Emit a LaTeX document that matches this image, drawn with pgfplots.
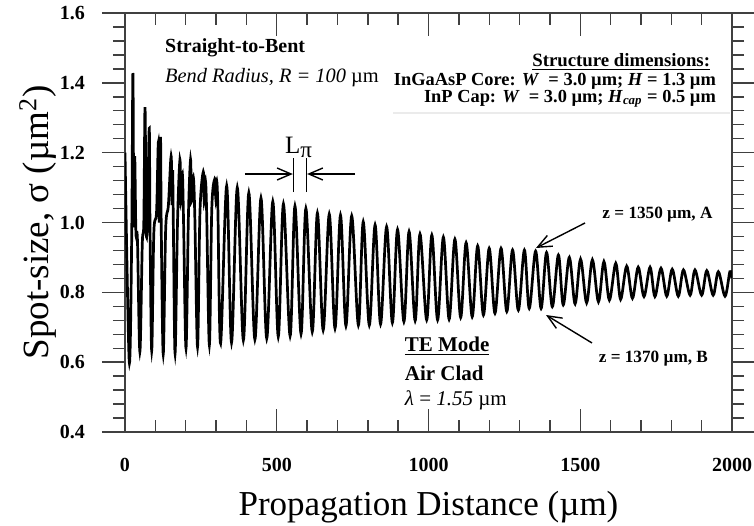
\documentclass[border=0pt]{standalone}
\usepackage{pgfplots}
\pgfplotsset{compat=1.18}
\usepackage{fontspec}
\setmainfont{Liberation Serif}
\usetikzlibrary{arrows.meta}
\begin{document}
\begin{tikzpicture}
\useasboundingbox (-62.5pt,-46.5pt) rectangle (314.5pt,216pt);
\begin{axis}[
  scale only axis, width=303.5pt, height=209.5pt,
  xmin=0, xmax=2000, ymin=0.4, ymax=1.6,
  xtick={0,500,1000,1500,2000},
  ytick={0.4,0.6,0.8,1.0,1.2,1.4,1.6},
  minor x tick num=4, minor y tick num=4,
  xtick align=inside, ytick align=outside,
  major tick length=11.5pt, minor tick length=6pt,
  tick style={black!75, line width=0.7pt},
  axis line style={black!75, line width=0.8pt},
  /pgf/number format/assume math mode=true,
  /pgf/number format/1000 sep={},
  yticklabel style={/pgf/number format/fixed, /pgf/number format/fixed zerofill, /pgf/number format/precision=1, xshift=-5pt},
  tick label style={font=\bfseries\fontsize{10}{12}\selectfont},
  xticklabel style={yshift=-9.5pt},
  xlabel={Propagation Distance (µm)},
  ylabel={Spot-size, σ (µm\textsuperscript{2})},
  xlabel style={at={(axis description cs:0.5,-0.179)}, anchor=center, font=\fontsize{17.5}{20}\selectfont},
  ylabel style={at={(axis description cs:-0.1433,0.5)}, anchor=center, font=\fontsize{18.5}{20}\selectfont},
]
\addplot[black, line width=1.35pt, smooth, tension=0.55] coordinates {
(0,1.20) (14,0.601)
(22,0.95) (26,1.428) (29,0.99) (32,1.19) (36,0.97) (41,0.95) (49,0.630)
(57,0.94) (62,1.00) (66,1.33) (70,0.97) (75,1.05) (80,1.27) (82.5,0.98) (88,0.633)
(95,0.97) (104,1.03) (110,1.23) (113,1.00) (117,1.245) (119.5,0.98) (126,0.623)
(134,0.98) (143,1.05) (152,1.19) (155,1.05) (157,1.15) (159.5,0.98) (165,0.625)
(173,1.00) (181,1.18) (184,1.06) (189,1.14) (193,1.00) (201,0.640)
(209,1.02) (216,1.18) (219,1.06) (225,1.13) (230,1.02) (239,0.644)
(247,1.03) (258,1.145) (261,1.06) (265,1.12) (269,1.03) (278,0.649)
(286,1.04) (296,1.125) (299,1.07) (302,1.12) (306,1.04) (315,0.654)
(335,1.105) (351,0.656) (370,1.10) (390,0.663) (408,1.085) (428,0.665)
(448,1.07) (467,0.668) (487,1.06) (505,0.673) (522,1.053) (544,0.675)
(560,1.047) (580,0.681) (596,1.04) (617,0.687) (634,1.027) (653,0.692)
(673,1.024) (692,0.697) (710,1.021) (728,0.704) (747,1.019) (769,0.706)
(785,1.002) (805,0.706) (824,0.993) (842,0.709) (862,0.988) (881,0.713)
(898,0.980) (919,0.716) (936,0.974) (956,0.719) (972,0.967) (994,0.721)
(1011,0.964) (1030,0.721) (1049,0.958) (1068,0.723) (1087,0.952) (1106,0.728)
(1124,0.942) (1144,0.730) (1162,0.933) (1181,0.735) (1200,0.926) (1219,0.740)
(1239,0.926) (1258,0.745) (1277,0.921) (1296,0.749) (1316,0.921) (1332,0.754)
(1353,0.918) (1371,0.754) (1389,0.914) (1408,0.759) (1428,0.907) (1444,0.764)
(1464,0.900) (1483,0.767) (1501,0.895) (1521,0.770) (1540,0.893) (1560,0.773)
(1578,0.888) (1596,0.778) (1617,0.883) (1633,0.780) (1653,0.875) (1672,0.783)
(1691,0.872) (1710,0.788) (1730,0.872) (1746,0.788) (1766,0.869) (1785,0.789)
(1803,0.866) (1823,0.789) (1840,0.864) (1862,0.792) (1878,0.864) (1900,0.792)
(1917,0.862) (1938,0.792) (1955,0.859) (1977,0.789) (1993,0.859) (2000,0.84)
};
% annotations
\node[anchor=west, font=\bfseries\fontsize{10}{12}\selectfont] at (axis cs:109,1.50) {Straight-to-Bent};
\node[anchor=west, font=\fontsize{10.2}{12}\selectfont] at (axis cs:109,1.414) {\textit{Bend Radius, R = 100} µm};
\node[anchor=east, font=\bfseries\fontsize{9.4}{12}\selectfont] at (axis cs:1951,1.46) {\underline{Structure dimensions:}};
\node[anchor=east, font=\bfseries\fontsize{9.2}{12}\selectfont] at (axis cs:1970,1.405) {InGaAsP Core: \textit{W}~ = 3.0 µm; \textit{H} = 1.3 µm};
\node[anchor=east, font=\bfseries\fontsize{9.2}{12}\selectfont] at (axis cs:1970,1.354) {InP Cap: \textit{W}~ = 3.0 µm; \textit{H}\textsubscript{\textit{cap}} = 0.5 µm};
\draw[black!8, line width=0.6pt] (axis cs:883,1.3136) -- (axis cs:1993,1.3136);
% L_pi
\node[font=\fontsize{12.5}{14}\selectfont] at (axis cs:572,1.2162) {L\raisebox{-0.35ex}{\fontsize{11.5}{12}\selectfont π}};
\draw[black, line width=0.7pt] (axis cs:554.5,1.0873) -- (axis cs:554.5,1.1847);
\draw[black, line width=0.7pt] (axis cs:598.7,1.0873) -- (axis cs:598.7,1.1847);
\draw[black, line width=0.7pt, -{Straight Barb[length=7pt,width=6pt]}] (axis cs:395,1.1389) -- (axis cs:553,1.1389);
\draw[black, line width=0.7pt, -{Straight Barb[length=7pt,width=6pt]}] (axis cs:758,1.1389) -- (axis cs:600,1.1389);
% A and B
\node[anchor=west, font=\bfseries\fontsize{8.6}{10}\selectfont] at (axis cs:1550,1.0215) {z = 1350 µm, A};
\draw[black, line width=0.7pt, -{Straight Barb[length=7pt,width=6pt]}] (axis cs:1515.7,0.9986) -- (axis cs:1354.2,0.927);
\node[anchor=west, font=\bfseries\fontsize{8.6}{10}\selectfont] at (axis cs:1538,0.609) {z = 1370 µm, B};
\draw[black, line width=0.7pt, -{Straight Barb[length=7pt,width=6pt]}] (axis cs:1538.7,0.655) -- (axis cs:1387.2,0.735);
% TE mode block
\node[anchor=west, font=\bfseries\fontsize{10.5}{12}\selectfont] at (axis cs:899,0.6463) {\underline{TE Mode}};
\node[anchor=west, font=\bfseries\fontsize{10.5}{12}\selectfont] at (axis cs:899,0.569) {Air Clad};
\node[anchor=west, font=\fontsize{10.5}{12}\selectfont] at (axis cs:899,0.4916) {\textit{λ} = \textit{1.55} µm};
\end{axis}
\end{tikzpicture}
\end{document}
